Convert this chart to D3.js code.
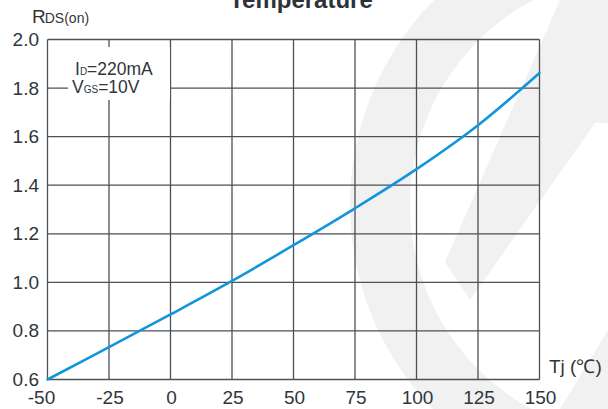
<!DOCTYPE html>
<html><head><meta charset="utf-8">
<script src="https://cdn.jsdelivr.net/npm/d3@7/dist/d3.min.js"></script>
<style>html,body{margin:0;padding:0;background:#fff;}svg{display:block;font-family:"Liberation Sans",Arial,sans-serif;}</style>
</head><body>
<svg id="c" width="608" height="409"></svg>
<script>
const temps = [-50, -25, 0, 25, 50, 75, 100, 125, 150];
const rds   = [0.600, 0.733, 0.868, 1.006, 1.153, 1.305, 1.466, 1.647, 1.862];
const xTicks = [-50, -25, 0, 25, 50, 75, 100, 125, 150];
const yTicks = [0.6, 0.8, 1.0, 1.2, 1.4, 1.6, 1.8, 2.0];
const title = "Temperature";

const svg = d3.select("#c");
const x = d3.scaleLinear().domain([-50, 150]).range([47.5, 539.5]);
const y = d3.scaleLinear().domain([0.6, 2.0]).range([379.5, 39.5]);
const txt = "#30363c", grid = "#4b5157";

// watermark
const wm = svg.append("g").attr("fill", "#f1f1f1");
const arc = d3.arc().innerRadius(232).outerRadius(292).startAngle(-Math.PI*0.98).endAngle(-Math.PI*0.02);
wm.append("path").attr("d", arc()).attr("transform", "translate(642,205)");
wm.append("path").attr("d", "M560,0 L608,0 L608,123 L595,123 L470,300 L445,262 Z");
wm.append("path").attr("d", "M560,409 L608,330 L608,409 Z");

// grid
const g = svg.append("g");
g.selectAll(".vx").data(xTicks).join("line")
  .attr("x1", d => x(d)).attr("x2", d => x(d)).attr("y1", y(2.0)).attr("y2", y(0.6))
  .attr("stroke", grid).attr("stroke-width", 1.3);
g.selectAll(".hy").data(yTicks).join("line")
  .attr("y1", d => y(d)).attr("y2", d => y(d)).attr("x1", x(-50)).attr("x2", x(150))
  .attr("stroke", grid).attr("stroke-width", 1.3);

// legend box
svg.append("rect").attr("x", 68).attr("y", 47).attr("width", 102).attr("height", 53).attr("fill", "#fff");
const l1 = svg.append("text").attr("x", 75).attr("y", 75).attr("fill", txt).attr("font-size", 17.5);
l1.append("tspan").text("I");
l1.append("tspan").attr("font-size", 10).text("D");
l1.append("tspan").text("=220mA");
const l2 = svg.append("text").attr("x", 72).attr("y", 93).attr("fill", txt).attr("font-size", 17.5);
l2.append("tspan").text("V");
l2.append("tspan").attr("font-size", 10).text("GS");
l2.append("tspan").text("=10V");

// curve
const line = d3.line().x((d, i) => x(temps[i])).y(d => y(d)).curve(d3.curveCatmullRom.alpha(0.5));
svg.append("path").datum(rds).attr("d", line).attr("fill", "none")
  .attr("stroke", "#1296db").attr("stroke-width", 2.6).attr("stroke-linecap", "round");

// axes labels
svg.selectAll(".yl").data(yTicks).join("text")
  .attr("x", 39).attr("y", d => y(d) + 6.5).attr("text-anchor", "end")
  .attr("font-size", 19).attr("fill", txt).text(d => d.toFixed(1));
svg.selectAll(".xl").data(xTicks).join("text")
  .attr("x", d => x(d) + (d === -50 ? -6 : 1)).attr("y", 404).attr("text-anchor", "middle")
  .attr("font-size", 19).attr("fill", txt).text(d => d);

// axis titles
svg.append("text").attr("x", 549).attr("y", 373).attr("font-size", 19).attr("fill", txt).text("Tj (℃)");
const yt = svg.append("text").attr("x", 32).attr("y", 23).attr("fill", txt).attr("font-size", 19);
yt.append("tspan").text("R");
yt.append("tspan").attr("font-size", 14).attr("dx", -1).text("DS(on)");

svg.append("text").attr("x", 301).attr("y", 8).attr("text-anchor", "middle")
  .attr("font-size", 24).attr("font-weight", "bold").attr("fill", "#2c3238").text(title);
</script>
</body></html>
